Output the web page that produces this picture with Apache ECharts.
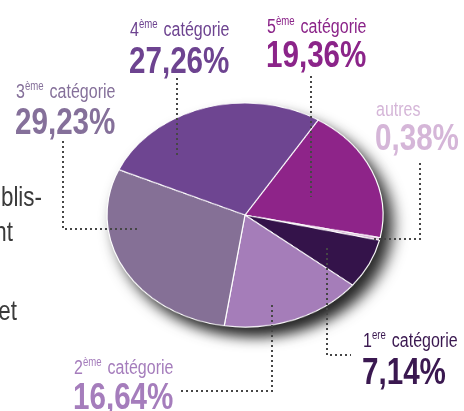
<!DOCTYPE html>
<html>
<head>
<meta charset="utf-8">
<script src="https://cdn.jsdelivr.net/npm/echarts@6/dist/echarts.min.js"></script>
<style>
  html, body { margin: 0; padding: 0; background: #fff; overflow: hidden; }
  #wrap { position: relative; width: 464px; height: 411px; }
  #pie {
    position: absolute; left: 95px; top: 65px; width: 300px; height: 300px;
    transform: scaleY(0.812);
    filter: drop-shadow(9px 12px 8px rgba(0,0,0,0.85));
  }
  #labels { position: absolute; left: 0; top: 0; width: 464px; height: 411px; }
</style>
</head>
<body>
<div id="wrap">
  <div id="pie"></div>
  <div id="labels"></div>
</div>
<script>
// data, clockwise from the 5th category
var categorias = ["5ème catégorie", "autres", "1ere catégorie", "2ème catégorie", "3ème catégorie", "4ème catégorie"];
var numeros = ["5", "", "1", "2", "3", "4"];
var exposants = ["ème", "", "ere", "ème", "ème", "ème"];
var valores = [19.36, 0.38, 7.14, 16.64, 29.23, 27.26];
var colores = ["#8e2489", "#d9b8d8", "#34134a", "#a57db9", "#857096", "#6e4591"];
var coloresTexto = ["#8b2489", "#d5b6d8", "#3a1850", "#a57dbc", "#85709a", "#6d4390"];

var font = "'Liberation Sans', Arial, sans-serif";
var estrecho = 0.8; // condensed look

// pie
var pieChart = echarts.init(document.getElementById("pie"));
pieChart.setOption({
  animation: false,
  series: [
    {
      type: "pie",
      center: ["50%", "50%"],
      radius: 138,
      startAngle: 58,
      clockwise: true,
      label: { show: false },
      labelLine: { show: false },
      itemStyle: { borderColor: "#fff", borderWidth: 1.2 },
      data: categorias.map(function (c, i) {
        return { name: c, value: valores[i], itemStyle: { color: colores[i] } };
      }),
    },
  ],
});

// label placement (left x, middle of title, middle of percent)
var posiciones = [
  { x: 267, ty: 27, py: 57 },
  { x: 376, ty: 110, py: 140 },
  { x: 363, ty: 341, py: 374 },
  { x: 74, ty: 368, py: 399 },
  { x: 16, ty: 92, py: 124 },
  { x: 130, ty: 30, py: 63 },
];

// dotted leader lines
var lineas = [
  [[311, 76], [311, 197]],
  [[420, 163], [420, 239], [373, 239]],
  [[327, 248], [327, 355], [351, 355]],
  [[272, 305], [272, 391], [178, 391]],
  [[63, 141], [63, 229], [139, 229]],
  [[177, 78], [177, 158]],
];

function formato(v) {
  return v.toFixed(2).replace(".", ",") + "%";
}

var graficos = [];
categorias.forEach(function (c, i) {
  var p = posiciones[i];
  var titulo = numeros[i]
    ? "{n|" + numeros[i] + "}{s|" + exposants[i] + "}{n| catégorie}"
    : "{n|" + c + "}";
  graficos.push({
    type: "text",
    x: p.x,
    y: p.ty,
    scaleX: estrecho,
    style: {
      text: titulo,
      fill: coloresTexto[i],
      verticalAlign: "middle",
      rich: {
        n: { fontFamily: font, fontSize: 20, fill: coloresTexto[i], height: 22 },
        s: { fontFamily: font, fontSize: 12, fill: coloresTexto[i], verticalAlign: "top", padding: [0, 2, 0, 0] },
      },
    },
  });
  graficos.push({
    type: "text",
    x: p.x - 1,
    y: p.py,
    scaleX: estrecho,
    style: {
      text: formato(valores[i]),
      fill: coloresTexto[i],
      font: "bold 37px " + font,
      verticalAlign: "middle",
    },
  });
  graficos.push({
    type: "polyline",
    shape: { points: lineas[i] },
    style: { stroke: "#464646", lineWidth: 2, lineDash: [2, 3], fill: null },
  });
});

// text cut off at the left border
[["blis-", 42, 198], ["nt", 13, 233], ["et", 17, 312]].forEach(function (t) {
  graficos.push({
    type: "text",
    x: t[1],
    y: t[2],
    scaleX: estrecho,
    style: { text: t[0], fill: "#3a3a3a", font: "28px " + font, align: "right", verticalAlign: "middle" },
  });
});

var labelChart = echarts.init(document.getElementById("labels"));
labelChart.setOption({ animation: false, graphic: graficos });
</script>
</body>
</html>
